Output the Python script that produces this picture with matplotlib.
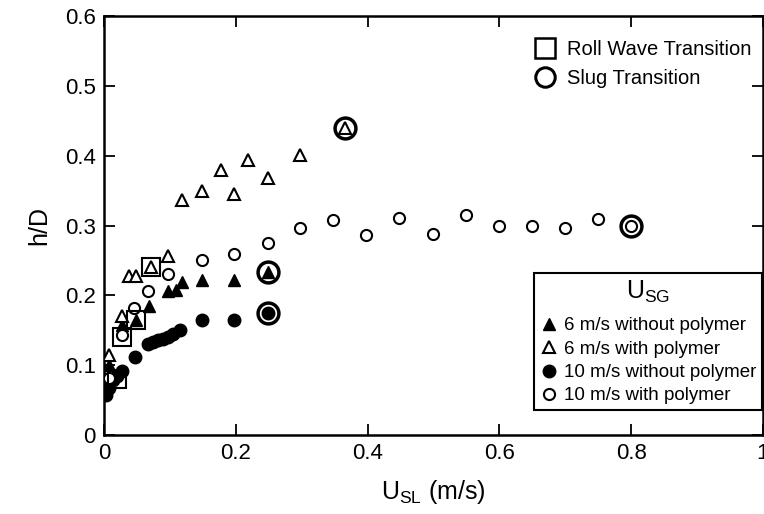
import matplotlib
matplotlib.use("Agg")
import matplotlib.pyplot as plt
from matplotlib.lines import Line2D

plt.rcParams['font.family'] = ['Liberation Sans', 'DejaVu Sans']
plt.rcParams['mathtext.fontset'] = 'custom'
plt.rcParams['mathtext.rm'] = 'Liberation Sans'

# 6 m/s without polymer (filled triangles)
six_wo_x = [0.008, 0.027, 0.049, 0.069, 0.0975, 0.109, 0.119, 0.148, 0.198, 0.249]
six_wo_y = [0.100, 0.157, 0.164, 0.185, 0.206, 0.208, 0.219, 0.222, 0.222, 0.233]
# 6 m/s with polymer (open triangles)
six_w_x = [0.008, 0.028, 0.038, 0.0485, 0.072, 0.0975, 0.118, 0.148, 0.178, 0.198, 0.219, 0.249, 0.298, 0.366]
six_w_y = [0.114, 0.171, 0.227, 0.227, 0.240, 0.257, 0.337, 0.349, 0.380, 0.345, 0.394, 0.368, 0.401, 0.439]
# 10 m/s without polymer (filled circles)
ten_wo_x = [0.003, 0.008, 0.014, 0.020, 0.027, 0.047, 0.067, 0.075, 0.082, 0.090, 0.097, 0.105, 0.115, 0.148, 0.198, 0.249]
ten_wo_y = [0.057, 0.068, 0.079, 0.084, 0.092, 0.111, 0.130, 0.133, 0.136, 0.138, 0.141, 0.145, 0.151, 0.164, 0.165, 0.175]
# 10 m/s with polymer (open circles)
ten_w_x = [0.008, 0.027, 0.045, 0.067, 0.0975, 0.148, 0.198, 0.249, 0.298, 0.347, 0.398, 0.448, 0.499, 0.550, 0.600, 0.650, 0.700, 0.750, 0.800]
ten_w_y = [0.082, 0.143, 0.182, 0.206, 0.231, 0.251, 0.259, 0.275, 0.296, 0.308, 0.286, 0.311, 0.288, 0.315, 0.299, 0.299, 0.296, 0.310, 0.300]
# Transitions
roll_x = [0.020, 0.027, 0.049, 0.072]
roll_y = [0.080, 0.141, 0.164, 0.240]
slug_x = [0.249, 0.249, 0.366, 0.800]
slug_y = [0.233, 0.175, 0.439, 0.300]

x_ticks = [0, 0.2, 0.4, 0.6, 0.8, 1]
x_labels = ['0', '0.2', '0.4', '0.6', '0.8', '1']
y_ticks = [0, 0.1, 0.2, 0.3, 0.4, 0.5, 0.6]
y_labels = ['0', '0.1', '0.2', '0.3', '0.4', '0.5', '0.6']

fig = plt.figure(figsize=(7.64, 5.14), dpi=100)
ax = fig.add_axes([104/764, 1-435/514, 659/764, 419/514])

ax.plot(ten_wo_x, ten_wo_y, 'o', ls='none', color='black', ms=9, zorder=3)
ax.plot(six_wo_x, six_wo_y, '^', ls='none', color='black', ms=8.5, zorder=3)
ax.plot(six_w_x, six_w_y, '^', ls='none', mfc='white', mec='black', mew=1.5, ms=8.5, zorder=4)
ax.plot(ten_w_x, ten_w_y, 'o', ls='none', mfc='white', mec='black', mew=1.5, ms=8, zorder=4)
ax.plot(roll_x, roll_y, 's', ls='none', mfc='none', mec='black', mew=1.5, ms=13, zorder=5)
ax.plot(slug_x, slug_y, 'o', ls='none', mfc='none', mec='black', mew=2.5, ms=15, zorder=5)

ax.set_xlim(0, 1)
ax.set_ylim(0, 0.6)
ax.set_xticks(x_ticks)
ax.set_xticklabels(x_labels)
ax.set_yticks(y_ticks)
ax.set_yticklabels(y_labels)
ax.tick_params(direction='in', length=8, width=1.3, labelsize=16, top=True, right=True, pad=6)
for s in ax.spines.values():
    s.set_linewidth(1.8)

ax.set_xlabel(r'$\mathregular{U_{SL}}$ (m/s)', fontsize=18, labelpad=10)
ax.set_ylabel('h/D', fontsize=18, labelpad=10)

h1 = [Line2D([], [], marker='s', ls='none', mfc='none', mec='black', mew=1.8, ms=14),
      Line2D([], [], marker='o', ls='none', mfc='none', mec='black', mew=2.2, ms=14)]
leg1 = ax.legend(h1, ['Roll Wave Transition', 'Slug Transition'], loc='upper left',
                 bbox_to_anchor=((522-104)/659, (435-32)/419), frameon=False, fontsize=14.5,
                 handletextpad=0.35, labelspacing=0.5, borderaxespad=0, handlelength=1.5)
ax.add_artist(leg1)

h2 = [Line2D([], [], marker='^', ls='none', color='black', ms=9),
      Line2D([], [], marker='^', ls='none', mfc='white', mec='black', mew=1.5, ms=9),
      Line2D([], [], marker='o', ls='none', color='black', ms=9),
      Line2D([], [], marker='o', ls='none', mfc='white', mec='black', mew=1.5, ms=8)]
leg2 = ax.legend(h2, ['6 m/s without polymer', '6 m/s with polymer',
                      '10 m/s without polymer', '10 m/s with polymer'],
                 loc='upper left', bbox_to_anchor=((534-104)/659, (435-273)/419),
                 title=r'$\mathregular{U_{SG}}$', title_fontsize=18, fontsize=13.5,
                 frameon=True, fancybox=False, edgecolor='black', framealpha=1,
                 borderaxespad=0, handletextpad=0.3, labelspacing=0.33, handlelength=1.0,
                 borderpad=0.3)
leg2.get_frame().set_linewidth(1.5)
leg2.set_zorder(10)
leg2._legend_box.sep = 9

fig.savefig('out.png', dpi=100)
